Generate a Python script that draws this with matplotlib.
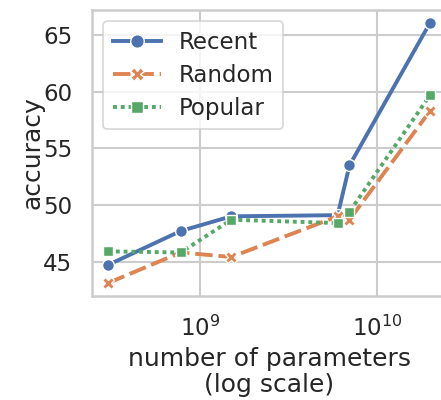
import numpy as np
import matplotlib
matplotlib.use("Agg")
import matplotlib.pyplot as plt

plt.rcParams['font.family'] = ['DejaVu Sans']

# model sizes (number of parameters)
params = [3.0e8, 7.74e8, 1.5e9, 6.0e9, 7.0e9, 2.0e10]

recent = [44.7, 47.7, 49.0, 49.1, 53.5, 66.1]
random_ = [43.1, 45.8, 45.4, 49.0, 48.7, 58.3]
popular = [45.9, 45.8, 48.7, 48.4, 49.4, 59.7]

series = [
    ("Recent", recent, "#4C72B0", "o", (None, None)),
    ("Random", random_, "#DD8452", "X", (4.5, 1.5)),
    ("Popular", popular, "#55A868", "s", (1, 1)),
]

fig = plt.figure(figsize=(4.41, 4.0), dpi=100)
ax = fig.add_axes([92 / 441, 104 / 400, 354 / 441, 286 / 400])

for name, vals, color, marker, dash in series:
    line, = ax.plot(params, vals, color=color, marker=marker, lw=2.8,
                    ms=8.5 if marker != "s" else 7.5, mec="white", mew=1,
                    label=name)
    if dash[0] is not None:
        line.set_dashes(dash)

ax.set_xscale("log")
ax.set_yticks([45, 50, 55, 60, 65])
ax.minorticks_off()
ax.xaxis.set_minor_locator(matplotlib.ticker.NullLocator())

ax.grid(True, color="#cccccc", lw=1.5)
ax.set_axisbelow(True)
for s in ax.spines.values():
    s.set_color("#cccccc")
    s.set_linewidth(1.8)
ax.tick_params(axis="both", length=0, labelsize=16.5, pad=14.25,
               labelcolor="#262626")

ax.set_xlabel("number of parameters\n(log scale)", fontsize=18,
              color="#262626", labelpad=4, linespacing=1.12)
ax.set_ylabel("accuracy", fontsize=18, color="#262626", labelpad=-1)

leg = ax.legend(loc="upper left", fontsize=16.5, frameon=True,
                handlelength=2.1, borderpad=0.4, labelspacing=0.45,
                handletextpad=0.8, markerscale=1.15)
leg.get_frame().set_edgecolor("#cccccc")
leg.get_frame().set_linewidth(1.2)
for t in leg.get_texts():
    t.set_color("#262626")

fig.savefig("out.png", dpi=100)
